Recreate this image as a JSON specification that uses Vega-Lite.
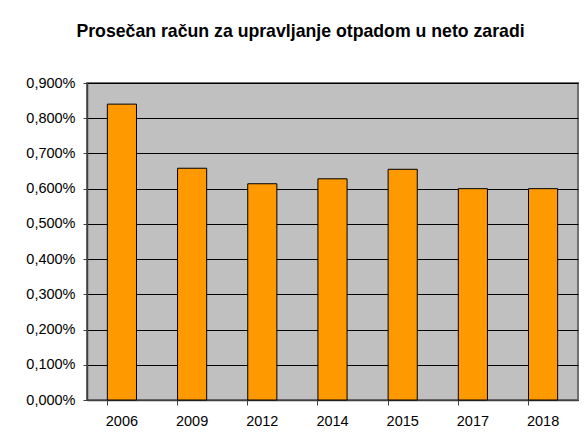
{
  "$schema": "https://vega.github.io/schema/vega-lite/v6.json",
  "autosize": {"type": "none"},
  "width": 491,
  "height": 317,
  "padding": {"left": 87, "top": 83, "right": 6, "bottom": 43},
  "background": "white",
  "title": {
    "text": "Prosečan račun za upravljanje otpadom u neto zaradi",
    "font": "Liberation Sans",
    "fontSize": 17.7,
    "fontWeight": "bold",
    "color": "black",
    "anchor": "middle",
    "offset": 34,
    "dx": -32
  },
  "data": {
    "values": [
      {"year": "2006", "value": 0.0084},
      {"year": "2009", "value": 0.00658},
      {"year": "2012", "value": 0.00614},
      {"year": "2014", "value": 0.00628},
      {"year": "2015", "value": 0.00655},
      {"year": "2017", "value": 0.006},
      {"year": "2018", "value": 0.006}
    ]
  },
  "mark": {"type": "bar", "color": "#FF9900", "stroke": "black", "strokeWidth": 1},
  "encoding": {
    "x": {
      "field": "year",
      "type": "nominal",
      "sort": null,
      "scale": {"paddingInner": 0.585, "paddingOuter": 0.29},
      "axis": {
        "title": null,
        "labelAngle": 0,
        "labelFont": "Liberation Sans",
        "labelFontSize": 14.5,
        "labelColor": "black",
        "labelPadding": 9,
        "bandPosition": 0,
        "tickSize": 5,
        "tickColor": "#404040",
        "domainColor": "#404040",
        "domainWidth": 1.5,
        "grid": false
      }
    },
    "y": {
      "field": "value",
      "type": "quantitative",
      "scale": {"domain": [0, 0.009], "nice": false},
      "axis": {
        "title": null,
        "values": [0, 0.001, 0.002, 0.003, 0.004, 0.005, 0.006, 0.007, 0.008, 0.009],
        "labelExpr": "replace(format(datum.value, '.3%'), '.', ',')",
        "labelFont": "Liberation Sans",
        "labelFontSize": 14.5,
        "labelColor": "black",
        "labelPadding": 8,
        "tickSize": 4,
        "tickColor": "#404040",
        "domainColor": "#404040",
        "domainWidth": 1.5,
        "grid": true,
        "gridColor": "black",
        "gridWidth": 1,
        "gridOpacity": 1
      }
    }
  },
  "config": {
    "view": {"fill": "#C0C0C0", "stroke": "#707070", "strokeWidth": 2}
  }
}
